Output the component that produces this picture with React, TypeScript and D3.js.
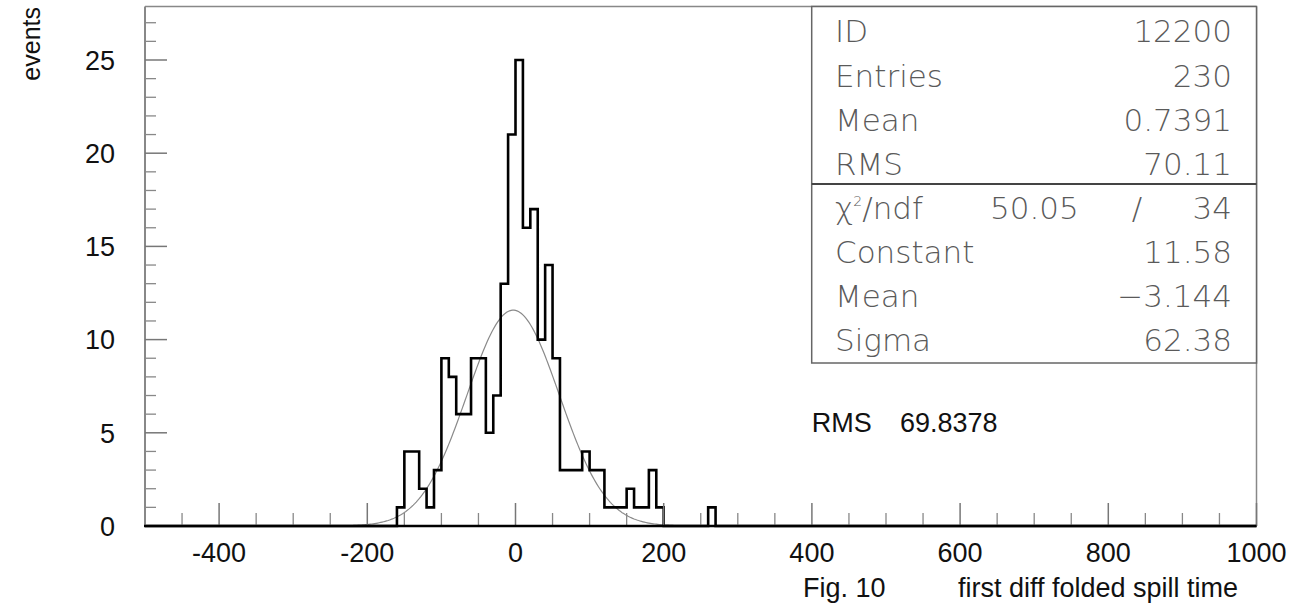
import React from "react";
import * as d3 from "d3";

// ---- data ----
const binWidth = 10;
const xMin = -500;
const xMax = 1000;
// low edges of non-empty bins and their counts
const binLow = [-160, -150, -140, -130, -120, -110, -100, -90, -80, -70, -60, -50, -40, -30, -20, -10, 0, 10, 20, 30, 40, 50, 60, 70, 80, 90, 100, 110, 120, 130, 140, 150, 160, 170, 180, 190, 260];
const binCounts = [1, 4, 4, 2, 1, 3, 9, 8, 6, 6, 9, 9, 5, 7, 13, 21, 25, 16, 17, 10, 14, 9, 3, 3, 3, 4, 3, 3, 1, 1, 1, 2, 1, 1, 3, 1, 1];

const fitConstant = 11.58;
const fitMean = -3.144;
const fitSigma = 62.38;

const xMajorTicks = [-400, -200, 0, 200, 400, 600, 800, 1000];
const yMajorTicks = [0, 5, 10, 15, 20, 25];

const statLabels = ["ID", "Entries", "Mean", "RMS"];
const statValues = ["12200", "230", "0.7391", "70.11"];
const chi2Value = "50.05";
const ndfValue = "34";
const fitLabels = ["Constant", "Mean", "Sigma"];
const fitValues = ["11.58", "\u22123.144", "62.38"];

const rmsText = "69.8378";
const yTitle = "events";
const figLabel = "Fig. 10";
const xTitle = "first diff folded spill time";

// ---- layout ----
const W = 1298;
const H = 613;
const left = 145;
const right = 1256.5;
const top = 6.5;
const bottom = 526;
const yMax = 27.87;

const helv = "'Liberation Sans', Arial, Helvetica, sans-serif";
const higz = "'DejaVu Sans', 'Liberation Sans', sans-serif";

export default function App() {
  const x = d3.scaleLinear().domain([xMin, xMax]).range([left, right]);
  const y = d3.scaleLinear().domain([0, yMax]).range([bottom, top]);

  // full histogram
  const nBins = Math.round((xMax - xMin) / binWidth);
  const counts = new Array(nBins).fill(0);
  binLow.forEach((lo, i) => {
    const idx = Math.round((lo - xMin) / binWidth);
    counts[idx] = binCounts[i];
  });
  const pts: [number, number][] = counts.map((c, i) => [xMin + i * binWidth, c]);
  pts.push([xMax, 0]);
  const histPath = d3
    .line<[number, number]>()
    .x((d) => x(d[0]))
    .y((d) => y(d[1]))
    .curve(d3.curveStepAfter)(pts) as string;

  const gaus = (v: number) => fitConstant * Math.exp(-0.5 * ((v - fitMean) / fitSigma) ** 2);
  const curvePts = d3.range(xMin, xMax + 0.1, 2).map((v) => [v, gaus(v)] as [number, number]);
  const curvePath = d3
    .line<[number, number]>()
    .x((d) => x(d[0]))
    .y((d) => y(d[1]))(curvePts) as string;

  const xMinor = d3.range(xMin, xMax + 1, 50).filter((v) => !xMajorTicks.includes(v) && v !== xMin);
  const yMinor = d3.range(1, 28, 1).filter((v) => v % 5 !== 0);

  // stats box
  const bx0 = 811.7;
  const bx1 = right;
  const by0 = top;
  const byDiv = 184;
  const by1 = 363;
  const labelX = 835;
  const valueX = 1232;
  const rowBase = [42, 87, 131, 175];
  const fitBase = [263, 307, 351];
  const chiBase = 219;
  const statFont = 31;
  const statFill = "#5a5a5a";

  return (
    <svg width={W} height={H} style={{ position: "absolute", left: 0, top: 0, background: "#fff" }}>
      {/* frame */}
      <line x1={left} y1={top} x2={right} y2={top} stroke="#888" strokeWidth={1.5} />
      <line x1={right} y1={top} x2={right} y2={bottom} stroke="#888" strokeWidth={1.5} />

      {/* gaussian fit */}
      <path d={curvePath} fill="none" stroke="#8a8a8a" strokeWidth={1.2} />

      {/* histogram */}
      <path d={histPath} fill="none" stroke="#000" strokeWidth={2.6} strokeLinejoin="miter" />

      {/* y axis */}
      <line x1={left} y1={top} x2={left} y2={bottom} stroke="#888" strokeWidth={2} />
      {yMajorTicks.map((t) => (
        <g key={"ym" + t}>
          <line x1={left} x2={left + 22} y1={y(t)} y2={y(t)} stroke="#777" strokeWidth={1.5} />
          <text x={115} y={y(t)} dy="0.36em" textAnchor="end" fontFamily={helv} fontSize={27} fill="#111">
            {t}
          </text>
        </g>
      ))}
      {yMinor.map((t) => (
        <line key={"yn" + t} x1={left} x2={left + 11} y1={y(t)} y2={y(t)} stroke="#888" strokeWidth={1.3} />
      ))}

      {/* x axis */}
      {xMajorTicks.map((t) => (
        <g key={"xm" + t}>
          <line x1={x(t)} x2={x(t)} y1={bottom} y2={bottom - 23} stroke="#777" strokeWidth={1.5} />
          <text x={x(t)} y={562} textAnchor="middle" fontFamily={helv} fontSize={27} fill="#111">
            {t}
          </text>
        </g>
      ))}
      {xMinor.map((t) => (
        <line key={"xn" + t} x1={x(t)} x2={x(t)} y1={bottom} y2={bottom - 13} stroke="#888" strokeWidth={1.3} />
      ))}
      <line x1={left - 1} y1={bottom} x2={right} y2={bottom} stroke="#000" strokeWidth={2.6} />

      {/* y title */}
      <text transform={`translate(40, 7) rotate(-90)`} textAnchor="end" fontFamily={helv} fontSize={25} fill="#111">
        {yTitle}
      </text>

      {/* caption */}
      <text x={803} y={597} fontFamily={helv} fontSize={27} fill="#111">
        {figLabel}
      </text>
      <text x={958} y={597} fontFamily={helv} fontSize={27} fill="#111">
        {xTitle}
      </text>

      {/* RMS text */}
      <text x={811.7} y={431.7} fontFamily={helv} fontSize={27} fill="#111">
        RMS
      </text>
      <text x={900} y={431.7} fontFamily={helv} fontSize={27} fill="#111">
        {rmsText}
      </text>

      {/* stats box */}
      <rect x={bx0} y={by0} width={bx1 - bx0} height={by1 - by0} fill="#fff" stroke="#666" strokeWidth={1.5} />
      <line x1={bx0} x2={bx1} y1={byDiv} y2={byDiv} stroke="#444" strokeWidth={1.8} />
      <g fontFamily={higz} fontSize={statFont} fontWeight={200} fill={statFill}>
        {statLabels.map((l, i) => (
          <text key={"sl" + i} x={labelX} y={rowBase[i]}>
            {l}
          </text>
        ))}
        {statValues.map((v, i) => (
          <text key={"sv" + i} x={valueX} y={rowBase[i]} textAnchor="end">
            {v}
          </text>
        ))}
        <text x={labelX} y={chiBase}>
          {"\u03C7"}
          <tspan dy={-13} fontSize={14}>
            2
          </tspan>
          <tspan dy={13}>/ndf</tspan>
        </text>
        <text x={990} y={chiBase}>
          {chi2Value}
        </text>
        <text x={1137} y={chiBase} textAnchor="middle">
          /
        </text>
        <text x={valueX} y={chiBase} textAnchor="end">
          {ndfValue}
        </text>
        {fitLabels.map((l, i) => (
          <text key={"fl" + i} x={labelX} y={fitBase[i]}>
            {l}
          </text>
        ))}
        {fitValues.map((v, i) => (
          <text key={"fv" + i} x={valueX} y={fitBase[i]} textAnchor="end">
            {v}
          </text>
        ))}
      </g>
    </svg>
  );
}
